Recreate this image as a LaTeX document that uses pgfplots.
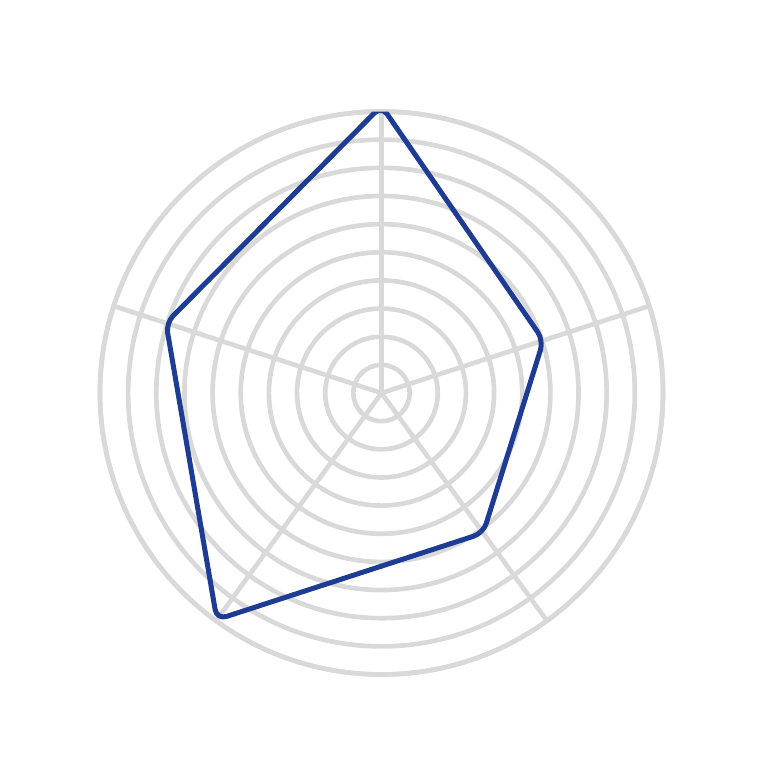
\documentclass[border=0pt]{standalone}
\usepackage{pgfplots}
\pgfplotsset{compat=1.18}
\usepgfplotslibrary{polar}
\definecolor{gridgray}{HTML}{D9D9D9}
\definecolor{lineblue}{HTML}{1F3C94}
\begin{document}
\begin{tikzpicture}
\useasboundingbox (-114.45pt,-113.4pt) rectangle (116.85pt,117.9pt);
\begin{polaraxis}[
  at={(0,0)}, anchor=center,
  scale only axis, width=168.9pt, height=168.9pt,
  ymin=0, ymax=10,
  xtick={18,90,162,234,306}, ytick={1,2,3,4,5,6,7,8,9,10},
  xticklabels={}, yticklabels={},
  xmajorgrids, ymajorgrids,
  major grid style={gridgray, line width=1.4pt},
  x axis line style={gridgray, line width=1.4pt},
  y axis line style={draw=none},
  major tick length=0pt,
]
\addplot[lineblue, line width=1.5pt, rounded corners=3pt, line join=round, mark=none]
  coordinates {(90,10.2) (18,6.05) (306,6.15) (234,9.95) (162,8.05)} -- cycle;
\end{polaraxis}
\end{tikzpicture}
\end{document}
